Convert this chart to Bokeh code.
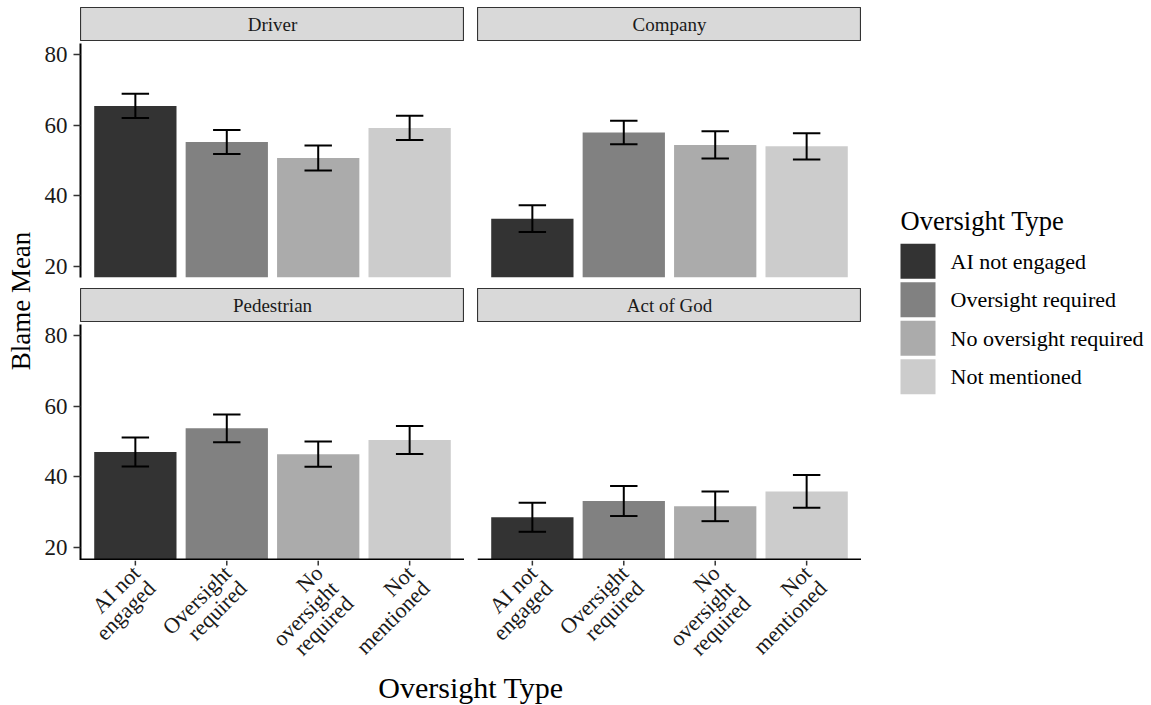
import math
from bokeh.plotting import figure
from bokeh.layouts import row, column
from bokeh.models import Range1d, FixedTicker, ColumnDataSource, Spacer
from bokeh.embed import file_html
from bokeh.resources import INLINE
from bokeh.core.properties import value

# ---------------- data ----------------
categories = ["AI not engaged", "Oversight required", "No oversight required", "Not mentioned"]
tick_labels = ["AI not\nengaged", "Oversight\nrequired", "No\noversight\nrequired", "Not\nmentioned"]
facets = ["Driver", "Company", "Pedestrian", "Act of God"]
colors = ["#333333", "#818181", "#ABABAB", "#CCCCCC"]

driver_mean = [65.4, 55.2, 50.7, 59.2]
driver_se = [3.4, 3.4, 3.5, 3.4]
company_mean = [33.6, 57.9, 54.4, 54.0]
company_se = [3.8, 3.3, 3.85, 3.7]
pedestrian_mean = [47.0, 53.7, 46.4, 50.4]
pedestrian_se = [4.1, 3.9, 3.55, 3.95]
actofgod_mean = [28.6, 33.2, 31.7, 35.9]
actofgod_se = [4.1, 4.25, 4.2, 4.6]

y_ticks = [20, 40, 60, 80]
y_title = "Blame Mean"
x_title = "Oversight Type"
legend_title = "Oversight Type"

# ---------------- style / layout ----------------
FONT = "Liberation Serif"
TXT = "#1A1A1A"
FRAME_W = 384
STRIP_H = 34
AX_LEFT = 40
GAP_X = 13
TB, BB = 2, 5
TICK = 7
LAB_H = 106
XT_H = 38
LEG_W, LEG_H = 288, 200
LINE_H = 21.5
S45 = math.sin(math.pi / 4)

xs = list(range(1, len(categories) + 1))


def blank(fig):
    fig.xgrid.grid_line_color = None
    fig.ygrid.grid_line_color = None
    return fig


def panel(means, ses, show_y, bottom_row):
    src = ColumnDataSource(dict(
        x=xs, top=means, color=colors, cat=categories,
        lo=[m - s for m, s in zip(means, ses)],
        hi=[m + s for m, s in zip(means, ses)],
        x0=[x - 0.15 for x in xs], x1=[x + 0.15 for x in xs],
    ))
    y0 = 16.4 if bottom_row else 17
    p = figure(frame_width=FRAME_W, frame_height=236 if bottom_row else 234,
               x_range=Range1d(0.4, len(categories) + 0.6), y_range=Range1d(y0, 83),
               x_axis_location=None,
               y_axis_location="left" if show_y else None,
               output_backend="svg", toolbar_location=None,
               min_border_left=AX_LEFT if show_y else 0, min_border_right=0,
               min_border_top=TB, min_border_bottom=0 if bottom_row else BB)
    p.outline_line_color = None
    blank(p)
    p.vbar(x="x", top="top", bottom=0, width=0.9, fill_color="color",
           line_color=None, source=src)
    p.segment(x0="x", x1="x", y0="lo", y1="hi", line_color="black", line_width=2, source=src)
    p.segment(x0="x0", x1="x1", y0="hi", y1="hi", line_color="black", line_width=2, source=src)
    p.segment(x0="x0", x1="x1", y0="lo", y1="lo", line_color="black", line_width=2, source=src)
    if bottom_row:
        # x axis line along the bottom edge of the panel
        p.segment(x0=[p.x_range.start], x1=[p.x_range.end], y0=[y0], y1=[y0],
                  line_color="black", line_width=4)
    if show_y:
        ax = p.yaxis[0]
        ax.ticker = FixedTicker(ticks=y_ticks)
        ax.axis_line_color = "black"
        ax.axis_line_width = 2
        ax.major_tick_line_color = "#333333"
        ax.major_tick_line_width = 1.5
        ax.major_tick_out = TICK
        ax.major_tick_in = 0
        ax.minor_tick_out = 0
        ax.minor_tick_in = 0
        ax.major_label_text_font = FONT
        ax.major_label_text_color = TXT
        ax.major_label_text_font_size = "23px"
        ax.major_label_standoff = 6
    return p


def xaxis_fig(x_range):
    """Bottom axis ticks and rotated, right-justified multi-line labels."""
    lab = figure(width=FRAME_W, height=LAB_H, x_range=x_range, y_range=Range1d(0, LAB_H),
                 x_axis_location=None, y_axis_location=None, min_border=0,
                 output_backend="svg", toolbar_location=None, outline_line_color=None)
    blank(lab)
    lab.segment(x0=xs, x1=xs, y0=[LAB_H] * len(xs), y1=[LAB_H - 5] * len(xs),
                line_color="#333333", line_width=1.5)
    lx, ly, lt, lxo = [], [], [], []
    for x, lbl in zip(xs, tick_labels):
        for j, line in enumerate(lbl.split("\n")):
            lx.append(x)
            lt.append(line)
            ly.append(LAB_H - j * LINE_H * S45)
            lxo.append(-8 + j * LINE_H * S45)
    src = ColumnDataSource(dict(x=lx, y=ly, text=lt, xo=lxo))
    lab.text(x="x", y="y", text="text", x_offset="xo", angle=math.pi / 4,
             text_align="right", text_baseline="top",
             text_font=value(FONT), text_font_size="22px", text_color=TXT, source=src)
    return lab


def strip(name):
    s = figure(width=FRAME_W, height=STRIP_H, x_range=Range1d(0, 1), y_range=Range1d(0, 1),
               x_axis_location=None, y_axis_location=None, min_border=0,
               output_backend="svg", toolbar_location=None,
               background_fill_color="#D9D9D9", outline_line_color="#333333",
               outline_line_width=1.2)
    blank(s)
    s.text(x=[0.5], y=[0.5], text=[name], text_align="center", text_baseline="middle",
           text_font=value(FONT), text_font_size="19px", text_color=TXT)
    return s


p_driver = panel(driver_mean, driver_se, True, False)
p_company = panel(company_mean, company_se, False, False)
p_ped = panel(pedestrian_mean, pedestrian_se, True, True)
p_god = panel(actofgod_mean, actofgod_se, False, True)

# y title
YT_H = 515
yt = figure(width=40, height=YT_H, x_range=Range1d(0, 40), y_range=Range1d(0, 1),
            x_axis_location=None, y_axis_location=None, min_border=0,
            output_backend="svg", toolbar_location=None, outline_line_color=None)
blank(yt)
yt.text(x=[20.5], y=[0.5], text=[y_title], angle=math.pi / 2, text_align="center",
        text_baseline="middle", text_font=value(FONT), text_font_size="27px", text_color="black")

# x title
xt = figure(width=FRAME_W * 2 + GAP_X, height=XT_H, x_range=Range1d(0, 1), y_range=Range1d(0, XT_H),
            x_axis_location=None, y_axis_location=None, min_border=0,
            output_backend="svg", toolbar_location=None, outline_line_color=None)
blank(xt)
xt.text(x=[0.5], y=[17], text=[x_title], text_align="center", text_baseline="alphabetic",
        text_font=value(FONT), text_font_size="30px", text_color="black")

# legend (keys built from categories / colours)
lf = figure(width=LEG_W, height=LEG_H, x_range=Range1d(0, LEG_W), y_range=Range1d(LEG_H, 0),
            x_axis_location=None, y_axis_location=None, min_border=0,
            output_backend="svg", toolbar_location=None, outline_line_color=None)
blank(lf)
KEY = 35
PITCH = 38.5
key_top = [43.3 + i * PITCH for i in range(len(categories))]
lsrc = ColumnDataSource(dict(
    top=key_top, bottom=[t + KEY for t in key_top], mid=[t + KEY / 2 for t in key_top],
    color=colors, label=categories))
lf.quad(left=39, right=39 + KEY, top="top", bottom="bottom", fill_color="color",
        line_color=None, source=lsrc)
lf.text(x=89, y="mid", text="label", text_align="left", text_baseline="middle",
        text_font=value(FONT), text_font_size="22px", text_color="black", source=lsrc)
lf.text(x=[39], y=[20.7], text=[legend_title], text_align="left", text_baseline="alphabetic",
        text_font=value(FONT), text_font_size="26.5px", text_color="black")

grid = column(
    Spacer(width=10, height=7),
    row(Spacer(width=AX_LEFT, height=STRIP_H), strip(facets[0]), Spacer(width=GAP_X, height=STRIP_H), strip(facets[1])),
    row(p_driver, Spacer(width=GAP_X, height=234), p_company),
    Spacer(width=10, height=6),
    row(Spacer(width=AX_LEFT, height=STRIP_H), strip(facets[2]), Spacer(width=GAP_X, height=STRIP_H), strip(facets[3])),
    row(p_ped, Spacer(width=GAP_X, height=236), p_god),
    row(Spacer(width=AX_LEFT, height=LAB_H), xaxis_fig(p_ped.x_range), Spacer(width=GAP_X, height=LAB_H), xaxis_fig(p_god.x_range)),
    row(Spacer(width=AX_LEFT, height=XT_H), xt),
)
ycol = column(Spacer(width=40, height=43), yt)
lcol = column(Spacer(width=LEG_W, height=200), lf)
layout = row(ycol, grid, lcol)

open("out.html", "w").write(file_html(layout, INLINE))
